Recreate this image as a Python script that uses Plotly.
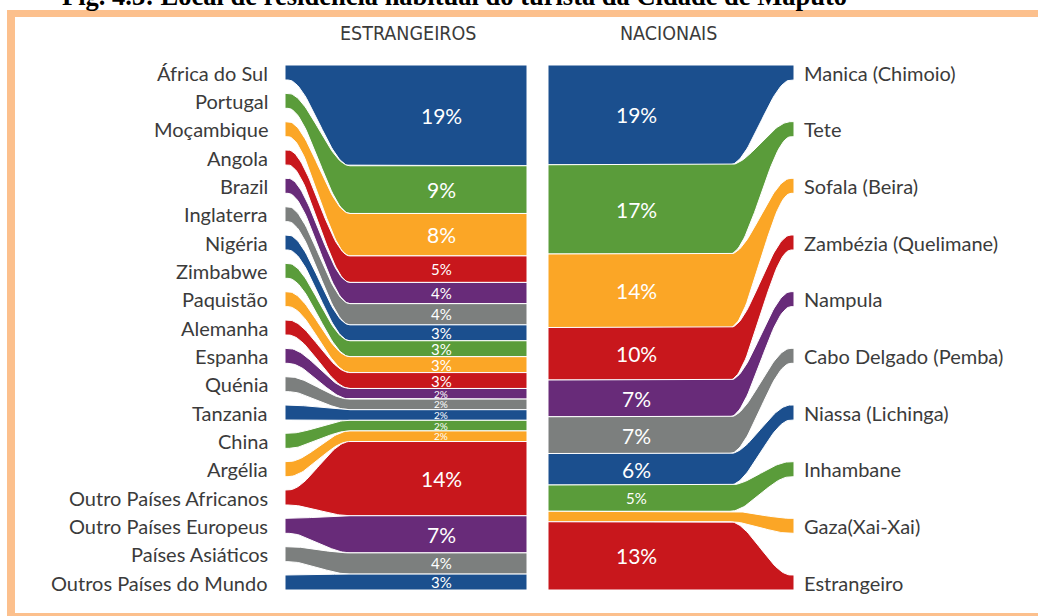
import plotly.graph_objects as go

# ---------------- data ----------------
foreign_labels = ["África do Sul", "Portugal", "Moçambique", "Angola", "Brazil", "Inglaterra",
                  "Nigéria", "Zimbabwe", "Paquistão", "Alemanha", "Espanha", "Quénia",
                  "Tanzania", "China", "Argélia", "Outro Países Africanos",
                  "Outro Países Europeus", "Países Asiáticos", "Outros Países do Mundo"]
foreign_values = [19, 9, 8, 5, 4, 4, 3, 3, 3, 3, 2, 2, 2, 2, 2, 14, 7, 4, 3]

national_labels = ["Manica (Chimoio)", "Tete", "Sofala (Beira)", "Zambézia (Quelimane)",
                   "Nampula", "Cabo Delgado (Pemba)", "Niassa (Lichinga)", "Inhambane",
                   "Gaza(Xai-Xai)", "Estrangeiro"]
national_values = [19, 17, 14, 10, 7, 7, 6, 5, 2, 13]

headers = ["ESTRANGEIROS", "NACIONAIS"]
caption = "Fig. 4.3: Local de residência habitual do turista da Cidade de Maputo"

palette = ["#1B4F8E", "#5A9C3A", "#FBA626", "#C8171C", "#682B79", "#7C7F7E"]

# ---------------- layout constants ----------------
W, H = 1038, 616
PX_TOP, PX_BOT = 65, 590            # vertical extent of the stacked bars (pixels)
STUB_PX = 15                         # constant height of the label stubs (pixels)
unit = (PX_BOT - PX_TOP) / 100.0     # pixels per percent unit
STUB = STUB_PX / unit

LABEL_FONT = "Lato, 'Open Sans', sans-serif"
TXT = "#3b3b3b"


def smooth(t):
    return t * t * (3 - 2 * t)


def curve(xa, ya, xb, yb, n=40):
    pts = []
    for k in range(n + 1):
        t = k / n
        pts.append((xa + (xb - xa) * t, ya + (yb - ya) * smooth(t)))
    return pts


def panel(values, side):
    total = float(sum(values))
    n = len(values)
    gap = (100 - STUB) / (n - 1)
    traces, stubs_mid, bars_mid = [], [], []
    cum = 0.0
    for i, v in enumerate(values):
        bt = cum / total * 100
        bb = (cum + v) / total * 100
        cum += v
        st = i * gap
        sb = st + STUB
        if side == "left":
            xo, xc0, xc1, xe = 285, 288, 350, 527
            top = [(xo, st)] + curve(xc0, st, xc1, bt) + [(xe, bt)]
            bot = [(xe, bb)] + curve(xc1, bb, xc0, sb) + [(xo, sb)]
        else:
            xe, xc0, xc1, xo = 548, 730, 791, 794
            top = [(xe, bt)] + curve(xc0, bt, xc1, st) + [(xo, st)]
            bot = [(xo, sb)] + curve(xc1, sb, xc0, bb) + [(xe, bb)]
        pts = top + bot + [top[0]]
        traces.append(go.Scatter(
            x=[p[0] for p in pts], y=[p[1] for p in pts], mode="lines",
            fill="toself", fillcolor=palette[i % 6],
            line=dict(color="white", width=1), hoverinfo="skip", showlegend=False))
        stubs_mid.append((st + sb) / 2)
        bars_mid.append((bt + bb) / 2)
    return traces, stubs_mid, bars_mid


fig = go.Figure()
lt, l_stub, l_bar = panel(foreign_values, "left")
rt, r_stub, r_bar = panel(national_values, "right")
for t in lt + rt:
    fig.add_trace(t)

ann = []


def pct_size(v):
    if v >= 6:
        return 21
    if v >= 3:
        return 15
    return 10


for lab, y in zip(foreign_labels, l_stub):
    ann.append(dict(x=270, y=y, xref="x", yref="y", text=lab, showarrow=False,
                    xanchor="right", yanchor="middle",
                    font=dict(family=LABEL_FONT, size=20, color=TXT)))
for v, y in zip(foreign_values, l_bar):
    ann.append(dict(x=441, y=y, xref="x", yref="y", text=f"{v}%", showarrow=False,
                    xanchor="center", yanchor="middle",
                    font=dict(family=LABEL_FONT, size=pct_size(v), color="white")))
for lab, y in zip(national_labels, r_stub):
    ann.append(dict(x=802, y=y, xref="x", yref="y", text=lab, showarrow=False,
                    xanchor="left", yanchor="middle",
                    font=dict(family=LABEL_FONT, size=20, color=TXT)))
for v, y in zip(national_values, r_bar):
    if v < 5:
        continue
    ann.append(dict(x=636, y=y, xref="x", yref="y", text=f"{v}%", showarrow=False,
                    xanchor="center", yanchor="middle",
                    font=dict(family=LABEL_FONT, size=pct_size(v), color="white")))

# headers
HEAD_FONT = "'Liberation Sans Narrow', 'DejaVu Sans Condensed', sans-serif"
for h, x in zip(headers, [408, 668]):
    ann.append(dict(x=x, y=33, xref="x", yref="y2", text=h, showarrow=False,
                    xanchor="center", yanchor="middle",
                    font=dict(family=HEAD_FONT, size=19.5, color=TXT)))

# caption, mostly cut off at the top edge
ann.append(dict(x=60, y=13, xref="x", yref="y2", text=f"<b>{caption}</b>", showarrow=False,
                xanchor="left", yanchor="bottom",
                font=dict(family="'Liberation Serif', serif", size=26.5, color="black")))

frame = "#FCC08D"
shapes = [
    dict(type="rect", xref="x", yref="y2", x0=7, x1=W + 5, y0=10, y1=17,
         fillcolor=frame, line=dict(width=0), layer="below"),
    dict(type="rect", xref="x", yref="y2", x0=7, x1=15, y0=10, y1=H + 5,
         fillcolor=frame, line=dict(width=0), layer="below"),
    dict(type="rect", xref="x", yref="y2", x0=7, x1=W + 5, y0=613, y1=H + 5,
         fillcolor=frame, line=dict(width=0), layer="below"),
]

fig.update_layout(
    width=W, height=H, margin=dict(l=0, r=0, t=0, b=0),
    paper_bgcolor="white", plot_bgcolor="white",
    xaxis=dict(range=[0, W], visible=False, fixedrange=True),
    yaxis=dict(range=[100 + (H - PX_BOT) / unit, -PX_TOP / unit], visible=False, fixedrange=True),
    yaxis2=dict(range=[H, 0], overlaying="y", visible=False, fixedrange=True),
    annotations=ann, shapes=shapes, showlegend=False,
)

fig.write_html("out.html", config={"displayModeBar": False},
               post_script="document.body.style.margin='0px';document.body.style.overflow='hidden';")
